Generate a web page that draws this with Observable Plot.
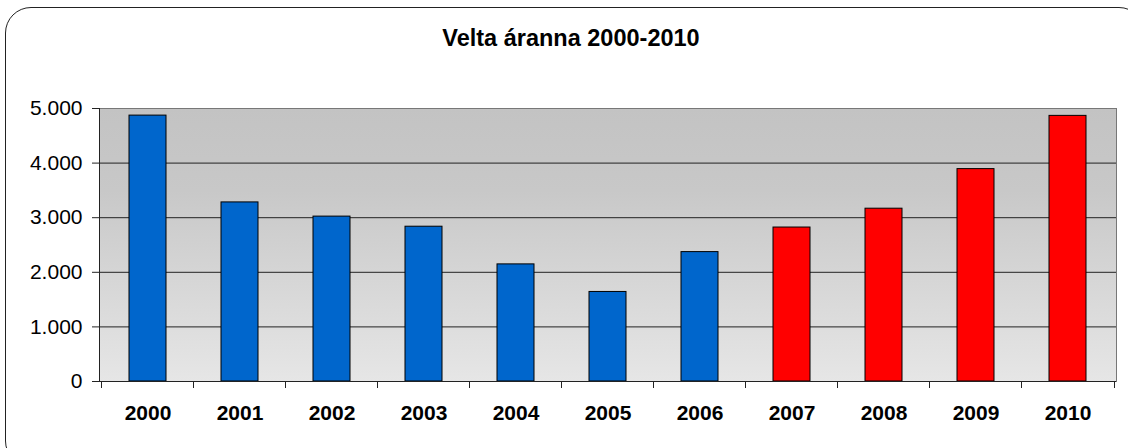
<!DOCTYPE html>
<html>
<head>
<meta charset="utf-8">
<script src="https://cdn.jsdelivr.net/npm/d3@7"></script>
<script src="https://cdn.jsdelivr.net/npm/@observablehq/plot@0.6"></script>
<style>
  html, body { margin: 0; padding: 0; background: #fff; }
  #wrap { position: relative; width: 1128px; height: 448px; overflow: hidden; font-family: "Liberation Sans", Arial, sans-serif; }
  #border { position: absolute; left: 5px; top: 7px; width: 1140px; height: 460px; border: 1.5px solid #222; border-radius: 26px; box-sizing: border-box; pointer-events: none; z-index: 2; }
  #title { position: absolute; left: 0; width: 1142px; top: 25px; text-align: center; font-weight: bold; font-size: 23.5px; color: #000; z-index: 3; }
  #chart { position: absolute; left: 0; top: 0; z-index: 1; }
</style>
</head>
<body>
<div id="wrap">
  <div id="border"></div>
  <div id="title">Velta áranna 2000-2010</div>
  <div id="chart"></div>
</div>
<script>
const years = ["2000","2001","2002","2003","2004","2005","2006","2007","2008","2009","2010"];
const values = [4870, 3280, 3020, 2835, 2145, 1640, 2370, 2820, 3165, 3890, 4865];
const yTicks = [0, 1000, 2000, 3000, 4000, 5000];
const gridTicks = [1000, 2000, 3000, 4000];
const highlightFrom = "2007";

const data = years.map((y, i) => ({year: y, value: values[i]}));
const locale = d3.formatLocale({decimal: ",", thousands: ".", grouping: [3], currency: ["", ""]});
const fmt = locale.format(",");

const defs = () => {
  const d = d3.create("svg:defs");
  const g = d.append("linearGradient").attr("id", "bg").attr("x1", 0).attr("y1", 0).attr("x2", 0).attr("y2", 1);
  g.append("stop").attr("offset", "0%").attr("stop-color", "#c3c3c3");
  g.append("stop").attr("offset", "30%").attr("stop-color", "#c8c8c8");
  g.append("stop").attr("offset", "100%").attr("stop-color", "#e6e6e6");
  return d.node();
};

const bandTicks = (index, scales, values, dims) => {
  const x = scales.x;
  const step = (dims.width - dims.marginLeft - dims.marginRight) / years.length;
  const bw = step * 0.4;
  const y0 = dims.height - dims.marginBottom;
  const pos = years.map(y => x(y) + bw / 2 - step / 2);
  pos.push(x(years[years.length - 1]) + bw / 2 + step / 2);
  const g = d3.create("svg:g").attr("stroke", "#222").attr("stroke-width", 1);
  for (const p of pos) {
    const px = Math.round(p) + 0.5;
    g.append("line").attr("x1", px).attr("x2", px).attr("y1", y0).attr("y2", y0 + 7);
  }
  return g.node();
};

const chart = Plot.plot({
  width: 1128,
  height: 448,
  marginLeft: 99,
  marginRight: 12,
  marginTop: 108,
  marginBottom: 67,
  style: {fontFamily: "'Liberation Sans', Arial, sans-serif", background: "transparent", color: "#000"},
  x: {domain: years, paddingInner: 0.6, paddingOuter: 0.3, label: null},
  y: {domain: [0, 5000], label: null},
  marks: [
    defs,
    Plot.frame({fill: "url(#bg)", stroke: "#777"}),
    Plot.ruleY(gridTicks, {stroke: "#222", strokeWidth: 1}),
    Plot.barY(data, {x: "year", y: "value", fill: d => d.year >= highlightFrom ? "#ff0000" : "#0066cc", stroke: "#000", strokeWidth: 1}),
    Plot.ruleY([0], {stroke: "#222"}),
    Plot.axisY({ticks: yTicks, tickFormat: fmt, tickSize: 7, tickPadding: 10, fontSize: 21, stroke: "#222", label: null}),
    Plot.axisX({tickSize: 0, tickPadding: 24, fontSize: 21, fontWeight: "bold", label: null}),
    bandTicks
  ]
});
document.getElementById("chart").appendChild(chart);
// y axis line
const svg = d3.select(chart);
svg.append("line").attr("x1", 99.5).attr("x2", 99.5).attr("y1", 108).attr("y2", 381).attr("stroke", "#222");
</script>
</body>
</html>
